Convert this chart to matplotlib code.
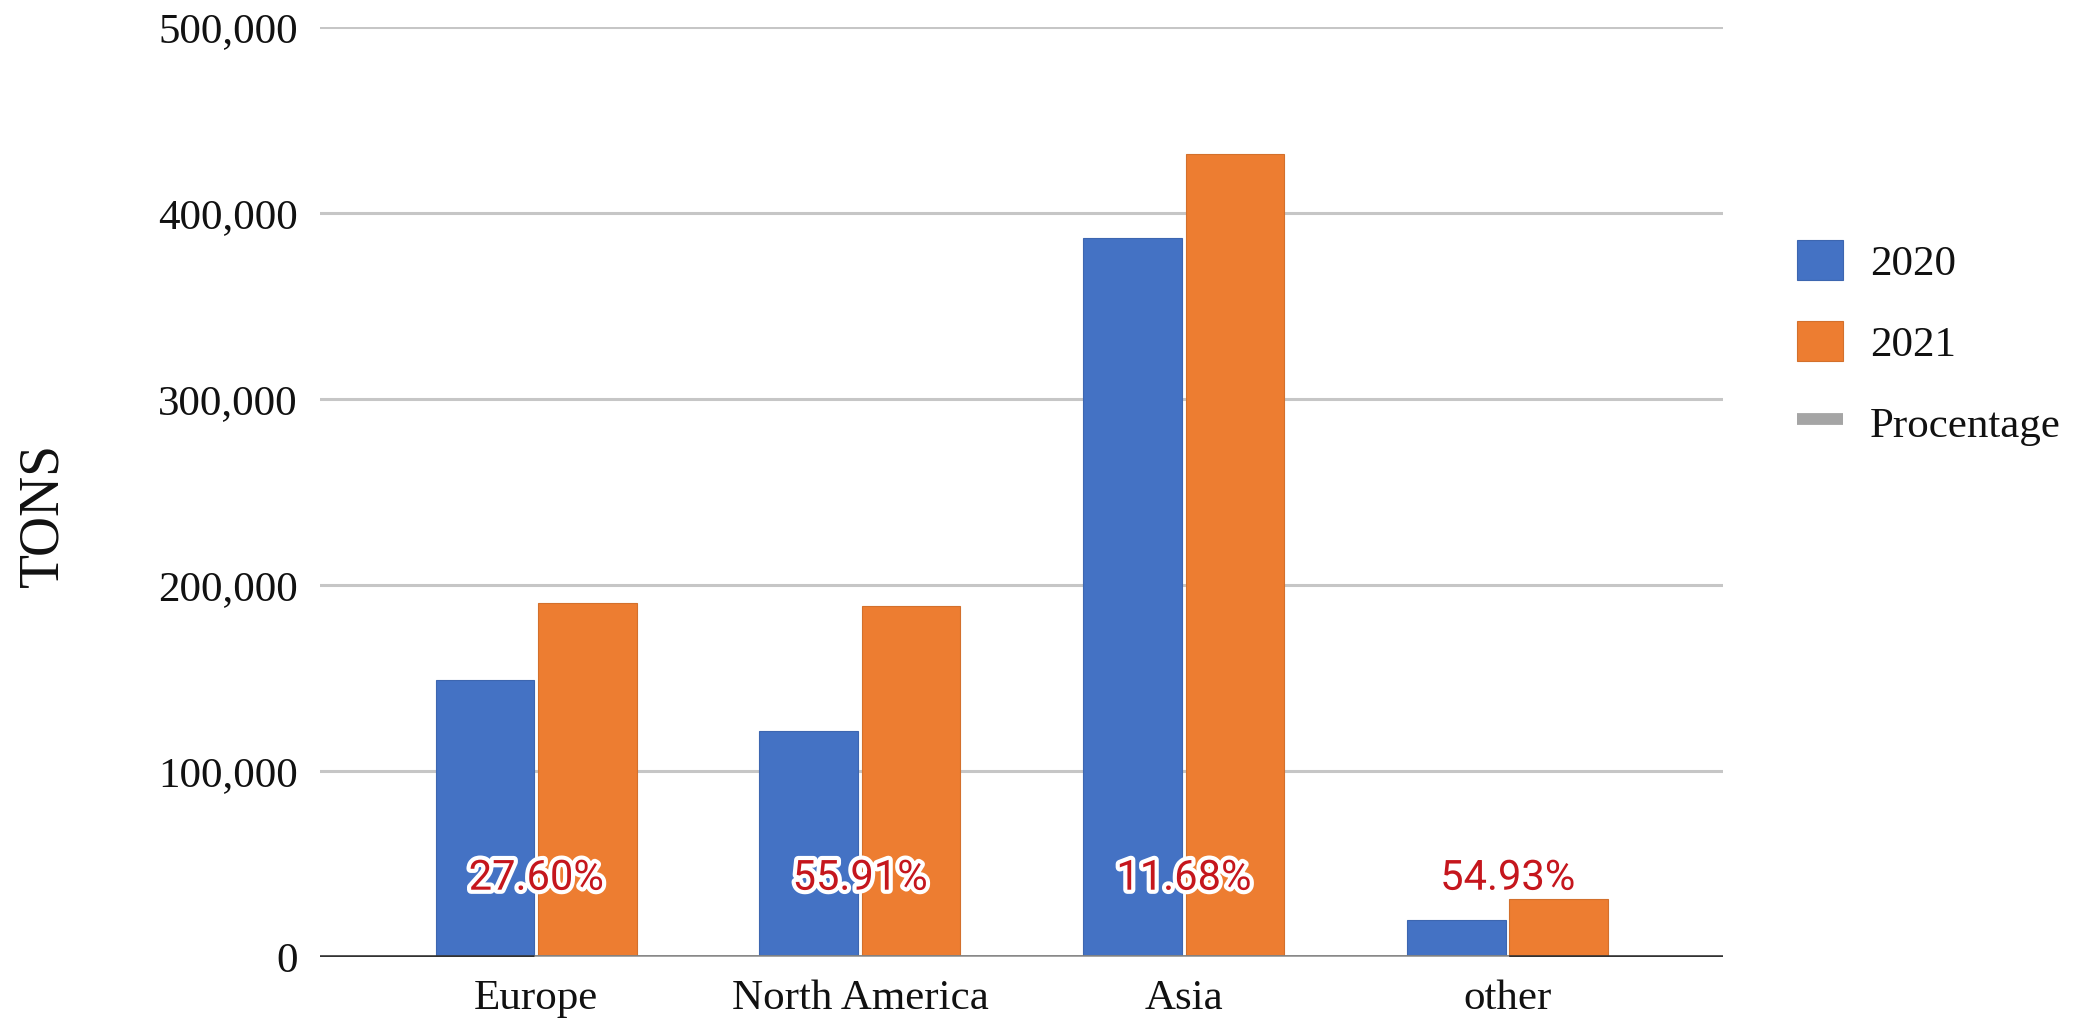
import matplotlib

matplotlib.use("Agg")
import matplotlib.pyplot as plt
import matplotlib.patheffects as pe
from matplotlib.lines import Line2D
from matplotlib.patches import Patch
from matplotlib.ticker import FuncFormatter, MultipleLocator


regions = ["Europe", "North America", "Asia", "other"]
tons_2020 = [149000, 121500, 386500, 20000]
tons_2021 = [190200, 188900, 431600, 31000]
procentage = [0.2760, 0.5591, 0.1168, 0.5493]
series_names = ["2020", "2021", "Procentage"]

BLUE = "#4472c4"
ORANGE = "#ed7d31"
GRAY = "#a5a5a5"
SERIF = "Liberation Serif"


def main() -> None:
    figure = plt.figure(figsize=(20.79, 10.24), dpi=100)
    figure.patch.set_facecolor("white")

    axis = figure.add_axes([0.154, 0.0654, 0.675, 0.9082])
    axis.set_facecolor("white")

    positions = list(range(len(regions)))
    width = 0.305
    offset = 0.158
    axis.bar(
        [p - offset for p in positions], tons_2020, width,
        color=BLUE, edgecolor="#3d66b0", linewidth=0.8, zorder=3,
    )
    axis.bar(
        [p + offset for p in positions], tons_2021, width,
        color=ORANGE, edgecolor="#d3702c", linewidth=0.8, zorder=3,
    )

    axis.axhline(0, color="#333333", linewidth=2.6, zorder=4)
    axis.plot(positions, procentage, color=GRAY, linewidth=2.4, zorder=5)
    for p, value in zip(positions, procentage):
        axis.annotate(
            f"{value * 100:.2f}%", (p, value), xytext=(0, 42),
            textcoords="offset points", ha="center", va="bottom",
            fontsize=30, family="Roboto", color="#c5161d", zorder=6,
            path_effects=[pe.withStroke(linewidth=6, foreground="white")],
        )

    axis.set_xlim(-0.667, len(regions) - 0.333)
    axis.set_ylim(0, 500000)
    axis.yaxis.set_major_locator(MultipleLocator(100000))
    axis.yaxis.set_major_formatter(FuncFormatter(lambda v, _: f"{v:,.0f}"))
    axis.grid(axis="y", color="#c6c6c6", linewidth=2.2, zorder=1)
    axis.set_axisbelow(True)
    for spine in axis.spines.values():
        spine.set_visible(False)

    axis.set_xticks(positions)
    axis.set_xticklabels(regions)
    axis.tick_params(axis="x", length=0, pad=16)
    axis.tick_params(axis="y", length=0, pad=16)
    for label in axis.get_xticklabels() + axis.get_yticklabels():
        label.set_fontfamily(SERIF)
        label.set_fontsize(31)
        label.set_color("#111111")

    figure.text(
        0.021, 0.497, "TONS", rotation=90, fontsize=40, family=SERIF,
        color="#111111", ha="center", va="center",
    )

    handles = [
        Patch(facecolor=BLUE, edgecolor="#3d66b0", linewidth=0.8),
        Patch(facecolor=ORANGE, edgecolor="#d3702c", linewidth=0.8),
        Line2D([], [], color=GRAY, linewidth=8.5, solid_capstyle="butt"),
    ]
    legend = figure.legend(
        handles, series_names, loc="upper left",
        bbox_to_anchor=(1797 / 2079, 1 - 240 / 1024),
        frameon=False, borderpad=0, borderaxespad=0,
        handlelength=1.07, handleheight=1.07, handletextpad=0.62,
        labelspacing=0.86, prop={"family": SERIF, "size": 31},
    )
    for text in legend.get_texts():
        text.set_color("#111111")

    figure.savefig("out.png", dpi=100)
    plt.close(figure)


if __name__ == "__main__":
    main()
